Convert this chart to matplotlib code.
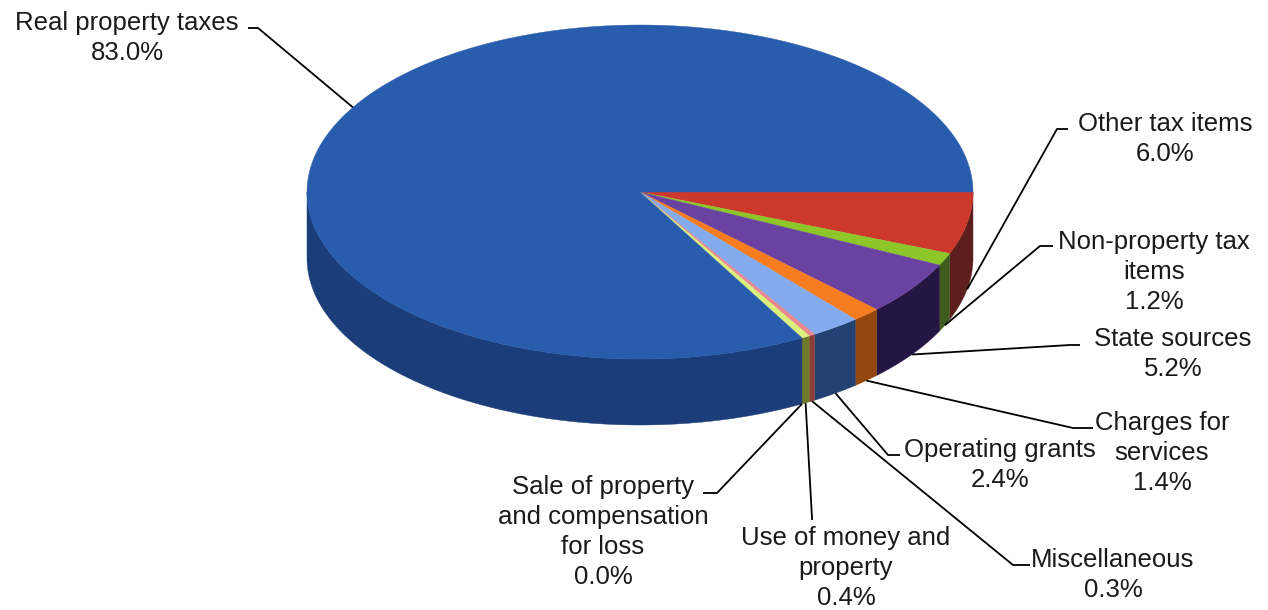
import numpy as np
import matplotlib
matplotlib.use('Agg')
import matplotlib.pyplot as plt
from matplotlib.patches import Polygon

# ---------------------------------------------------------
#                      data
# ---------------------------------------------------------

labels = ['Other tax items', 'Non-property tax\nitems', 'State sources',
          'Charges for\nservices', 'Operating grants', 'Miscellaneous',
          'Use of money and\nproperty', 'Sale of property\nand compensation\nfor loss',
          'Real property taxes']
shares = [6.0, 1.2, 5.2, 1.4, 2.4, 0.3, 0.4, 0.0, 83.0]

top_colors = ['#CD382C', '#8DC629', '#6A42A2', '#F57D1F', '#84ABEE',
              '#EA8790', '#D9F07C', '#B0B0B0', '#285DAE']
side_colors = ['#5C1F1E', '#3E5C1C', '#241542', '#94470F', '#234274',
               '#8A3E36', '#6E7A2A', '#555555', '#1B3D7A']

# label centres, leader knee and stub end (figure pixels, y down)
text_xy = [(1165, 139), (1154, 272), (1173, 354), (1162, 453), (1000, 465),
           (1113, 575), (846, 568), (603, 532), (127, 38)]
knee_xy = [(1057, 129), (1040, 246), (1070, 345), (1073, 428), (888, 455),
           (1013, 565), (812, 518), (717, 493), (258, 28)]
stub_xy = [(1068, 129), (1053, 246), (1080, 345), (1093, 428), (900, 455),
           (1030, 565), (812, 520), (703, 493), (248, 28)]

# pie geometry
cx, cy = 640, 192
rx, ry = 333, 167
depth = 66


def rim(t, dz=0.0):
    return cx + rx * np.cos(t), cy - ry * np.sin(t) + dz


# ---------------------------------------------------------
#                      plot
# ---------------------------------------------------------

fig = plt.figure(figsize=(12.68, 6.10), dpi=100)
ax = fig.add_axes([0, 0, 1, 1])
ax.set_xlim(0, 1268)
ax.set_ylim(610, 0)
ax.axis('off')

vals = np.array(shares)
bounds = -2 * np.pi * np.concatenate([[0], np.cumsum(vals)]) / vals.sum()

# side walls (front half only)
for i in range(len(vals)):
    t0, t1 = bounds[i], bounds[i + 1]
    lo, hi = max(t1, -np.pi), min(t0, 0)
    if hi - lo <= 0:
        continue
    t = np.linspace(hi, lo, 200)
    x, y = rim(t)
    xb, yb = rim(t[::-1], depth)
    pts = np.column_stack([np.concatenate([x, xb]), np.concatenate([y, yb])])
    ax.add_patch(Polygon(pts, closed=True, fc=side_colors[i], ec=side_colors[i], lw=0.3))

# top faces
for i in range(len(vals)):
    t0, t1 = bounds[i], bounds[i + 1]
    if t0 - t1 <= 0:
        continue
    t = np.linspace(t0, t1, 400)
    x, y = rim(t)
    pts = np.column_stack([np.concatenate([[cx], x]), np.concatenate([[cy], y])])
    ax.add_patch(Polygon(pts, closed=True, fc=top_colors[i], ec=top_colors[i], lw=0.3))

# labels with leader lines
for i in range(len(vals)):
    tm = (bounds[i] + bounds[i + 1]) / 2
    if np.sin(tm) < 0:
        ax0, ay0 = rim(tm, depth)
    else:
        ax0, ay0 = rim(tm)
    ax.plot([ax0, knee_xy[i][0], stub_xy[i][0]], [ay0, knee_xy[i][1], stub_xy[i][1]],
            color='black', lw=1.3, solid_capstyle='butt')
    ax.text(text_xy[i][0], text_xy[i][1], f'{labels[i]}\n{shares[i]:.1f}%',
            ha='center', va='center', multialignment='center',
            fontsize=18.5, family=['Liberation Sans', 'DejaVu Sans'],
            color='#1a1a1a', linespacing=1.31)

fig.savefig('out.png', dpi=100)
